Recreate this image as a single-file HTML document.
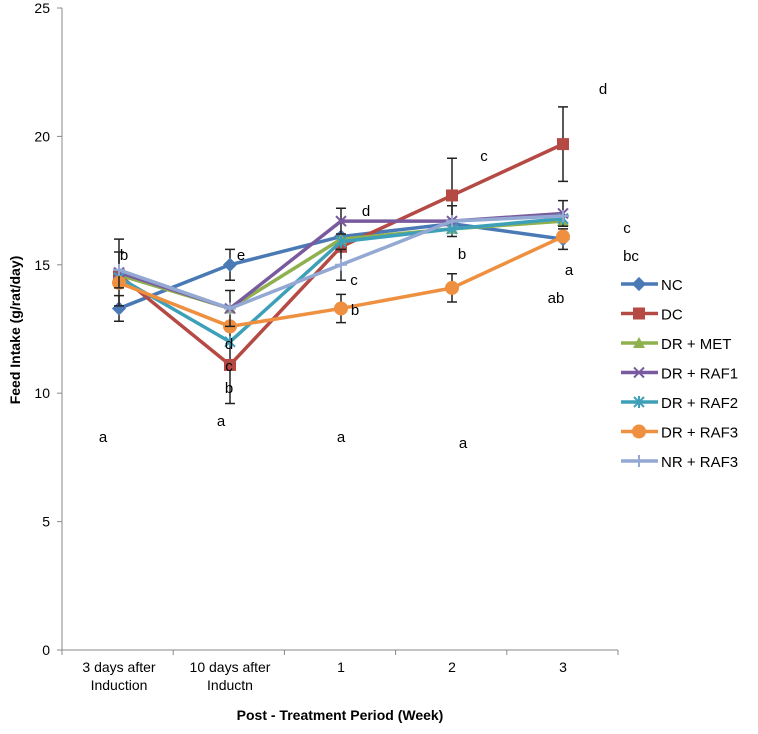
<!DOCTYPE html>
<html><head><meta charset="utf-8"><style>
body{margin:0;background:#fff;font-family:"Liberation Sans",sans-serif;}
svg text{font-family:"Liberation Sans",sans-serif;}
</style></head><body>
<svg width="758" height="729" id="c"></svg>
<script>
const categories=["3 days after|Induction","10 days after|Inductn","1","2","3"];
const seriesNames=["NC","DC","DR + MET","DR + RAF1","DR + RAF2","DR + RAF3","NR + RAF3"];
const nc=[13.3,15.0,16.1,16.6,16.0];
const dc=[14.6,11.1,15.7,17.7,19.7];
const met=[14.6,13.3,16.0,16.4,16.7];
const raf1=[14.7,13.3,16.7,16.7,17.0];
const raf2=[14.5,12.0,15.9,16.4,16.8];
const raf3=[14.3,12.6,13.3,14.1,16.1];
const nr=[14.8,13.3,15.0,16.7,16.9];
const ncErr=[0.5,0.6,0,0,0.4];
const dcErr=[0,1.5,0,1.45,1.45];
const raf3Err=[0,0,0.55,0.55,0];
const raf1Err=[1.3,0,0.5,0.6,0.5];
const nrErr=[0.7,0.7,0.6,0,0];
const yTicks=[0,5,10,15,20,25];
const colors=["#4a7ab5","#b54a45","#8fb04e","#7a5a9e","#3ea0b8","#ee9040","#93a9d3"];
const all=[nc,dc,met,raf1,raf2,raf3,nr];
const errs=[ncErr,dcErr,null,raf1Err,null,raf3Err,nrErr];
const NS="http://www.w3.org/2000/svg",svg=document.getElementById('c');
function el(t,a,p){const e=document.createElementNS(NS,t);for(const k in a)e.setAttribute(k,a[k]);(p||svg).appendChild(e);return e;}
const y=v=>650-v*25.68, x=i=>119+i*111;
let e=el('line',{x1:62,y1:8,x2:62,y2:650,stroke:'#888'});

e=el('line',{x1:62,y1:650,x2:618,y2:650,stroke:'#888'});

yTicks.forEach(t=>{el('line',{x1:57,x2:62,y1:y(t),y2:y(t),stroke:'#888'});
 const tx=el('text',{x:50,y:y(t)+5,'text-anchor':'end','font-size':14});tx.textContent=t;
 });
categories.forEach((c,i)=>{el('line',{x1:62+i*111.2,x2:62+i*111.2,y1:650,y2:655,stroke:'#888'});
 c.split('|').forEach((l,j)=>{const tx=el('text',{x:x(i),y:672+j*18,'text-anchor':'middle','font-size':14});tx.textContent=l;
 });});
el('line',{x1:618,x2:618,y1:650,y2:655,stroke:'#888'});
let t=el('text',{x:340,y:720,'text-anchor':'middle','font-size':14,'font-weight':'bold'});t.textContent='Post - Treatment Period (Week)';

t=el('text',{x:0,y:0,'text-anchor':'middle','font-size':14,'font-weight':'bold',transform:'translate(20,330) rotate(-90)'});t.textContent='Feed Intake (g/rat/day)';

function marker(k,cx,cy,g){const c=colors[k];
 if(k==0)el('rect',{x:cx-5,y:cy-5,width:10,height:10,fill:c,transform:`rotate(45 ${cx} ${cy})`},g);
 else if(k==1)el('rect',{x:cx-6,y:cy-6,width:12,height:12,fill:c},g);
 else if(k==2)el('polygon',{points:`${cx},${cy-6} ${cx+6},${cy+5} ${cx-6},${cy+5}`,fill:c},g);
 else if(k==3)el('path',{d:`M${cx-5} ${cy-5}L${cx+5} ${cy+5}M${cx+5} ${cy-5}L${cx-5} ${cy+5}`,stroke:c,'stroke-width':2},g);
 else if(k==4)el('path',{d:`M${cx-5} ${cy-5}L${cx+5} ${cy+5}M${cx+5} ${cy-5}L${cx-5} ${cy+5}M${cx} ${cy-6}V${cy+6}`,stroke:c,'stroke-width':2},g);
 else if(k==5)el('circle',{cx,cy,r:7,fill:c},g);
 else el('path',{d:`M${cx-6} ${cy}H${cx+6}M${cx} ${cy-6}V${cy+6}`,stroke:c,'stroke-width':2},g);}
all.forEach((s,k)=>{const g=el('g',{});
 if(errs[k])s.forEach((v,i)=>{const d=errs[k][i];if(!d)return;const X=x(i);
  el('path',{d:`M${X} ${y(v+d)}V${y(v-d)}M${X-5} ${y(v+d)}H${X+5}M${X-5} ${y(v-d)}H${X+5}`,stroke:'#222','stroke-width':1.5},g);});
 el('polyline',{points:s.map((v,i)=>x(i)+','+y(v)).join(' '),fill:'none',stroke:colors[k],'stroke-width':3.5},g);
 s.forEach((v,i)=>marker(k,x(i),y(v),g));});
const ann=[[124,260,"b"],[103,442,"a"],[241,260,"e"],[229,349,"d"],[229,371,"c"],[229,393,"b"],[221,426,"a"],[366,216,"d"],[354,285,"c"],[355,315,"b"],[341,442,"a"],[484,161,"c"],[462,259,"b"],[463,448,"a"],[603,94,"d"],[627,233,"c"],[631,261,"bc"],[569,275,"a"],[556,303,"ab"]];
ann.forEach(a=>{const tx=el('text',{x:a[0],y:a[1],'text-anchor':'middle','font-size':15});tx.textContent=a[2];
 });
seriesNames.forEach((n,k)=>{const g=el('g',{});
 const Y=284+k*29.5;el('line',{x1:621,x2:658,y1:Y,y2:Y,stroke:colors[k],'stroke-width':3.5},g);marker(k,639,Y,g);
 const tx=el('text',{x:661,y:Y+6,'font-size':15},g);tx.textContent=n;});
</script>
</body></html>
